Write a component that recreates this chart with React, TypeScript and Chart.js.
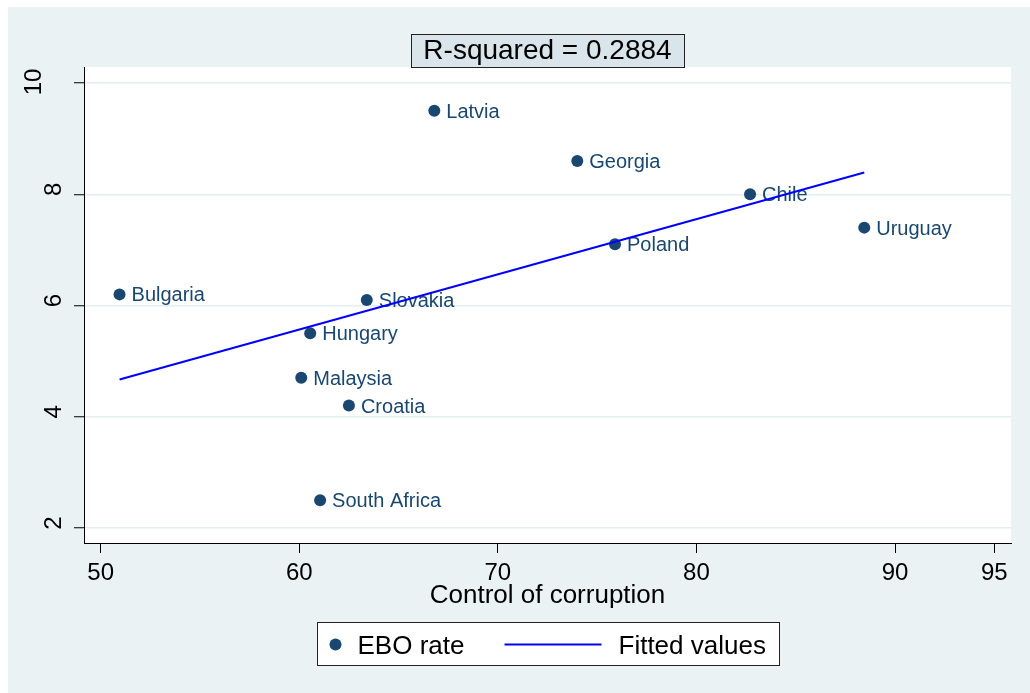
import React, { useEffect, useRef } from "react";
import { Chart, registerables } from "chart.js";

Chart.register(...registerables);

// Country observations: control of corruption vs. EBO rate
const countries = [
  "Latvia",
  "Georgia",
  "Chile",
  "Uruguay",
  "Poland",
  "Bulgaria",
  "Slovakia",
  "Hungary",
  "Malaysia",
  "Croatia",
  "South Africa",
];
const corruption = [66.8, 74.0, 82.7, 88.45, 75.9, 50.95, 63.4, 60.55, 60.1, 62.5, 61.05];
const eboRate = [9.5, 8.6, 8.0, 7.4, 7.1, 6.2, 6.1, 5.5, 4.7, 4.2, 2.5];

// Fitted regression line end points
const fitX = [50.95, 88.45];
const fitY = [4.67, 8.39];

// Axis ticks
const xTicks = [50, 60, 70, 80, 90, 95];
const yTicks = [2, 4, 6, 8, 10];

const titleText = "R-squared = 0.2884";
const xTitle = "Control of corruption";

const FONT = "Arial, 'Liberation Sans', Helvetica, sans-serif";
const NAVY = "#1a476f";
const BG = "#eaf2f3";

const decorations = {
  id: "decorations",
  beforeDraw(chart: any) {
    const { ctx, chartArea: a } = chart;
    ctx.save();
    ctx.fillStyle = BG;
    ctx.fillRect(0, 0, chart.width, chart.height);
    ctx.fillStyle = "#ffffff";
    ctx.fillRect(a.left, a.top, a.right - a.left, a.bottom - a.top);
    ctx.restore();
  },
  afterDatasetDraw(chart: any, args: any) {
    if (args.index !== 0) return;
    const { ctx } = chart;
    const meta = chart.getDatasetMeta(0);
    ctx.save();
    ctx.font = `20px ${FONT}`;
    ctx.fillStyle = NAVY;
    ctx.textAlign = "left";
    ctx.textBaseline = "alphabetic";
    meta.data.forEach((pt: any, i: number) => {
      ctx.fillText(countries[i], pt.x + 12, pt.y + 7);
    });
    ctx.restore();
  },
  afterDraw(chart: any) {
    const { ctx, chartArea: a, scales } = chart;
    const cx = (a.left + a.right) / 2;
    ctx.save();

    // y tick labels stood on end; wider labels sit further out from the axis
    ctx.font = `24px ${FONT}`;
    ctx.fillStyle = "#000";
    ctx.textAlign = "center";
    ctx.textBaseline = "middle";
    yTicks.forEach((v) => {
      const label = String(v);
      const w = ctx.measureText(label).width;
      const px = a.left - 11 - 1.5 * w;
      const py = scales.y.getPixelForValue(v) - 9 + 0.3 * w;
      ctx.save();
      ctx.translate(px + 1, py);
      ctx.rotate(-Math.PI / 2);
      ctx.fillText(label, 0, 0);
      ctx.restore();
    });

    // x axis title
    ctx.font = `26px ${FONT}`;
    ctx.textBaseline = "alphabetic";
    ctx.fillText(xTitle, cx, a.bottom + 60);

    // boxed title
    const tw = 273;
    const th = 33;
    const tx = Math.round(cx - tw / 2) + 0.5;
    const ty = Math.round(a.top - th) + 0.5;
    ctx.fillStyle = "#d9e5ea";
    ctx.fillRect(tx, ty, tw, th);
    ctx.strokeStyle = "#222";
    ctx.lineWidth = 1;
    ctx.strokeRect(tx, ty, tw, th);
    ctx.fillStyle = "#000";
    ctx.font = `28px ${FONT}`;
    ctx.fillText(titleText, cx, a.top - 8);

    // legend
    const ds = chart.data.datasets;
    const lw = 462;
    const lh = 43;
    const lx = Math.round(cx - lw / 2) + 0.5;
    const ly = Math.round(a.bottom + 79) + 0.5;
    const mid = ly + 22;
    ctx.fillStyle = "#ffffff";
    ctx.fillRect(lx, ly, lw, lh);
    ctx.strokeStyle = "#222";
    ctx.strokeRect(lx, ly, lw, lh);

    ctx.fillStyle = ds[0].backgroundColor;
    ctx.beginPath();
    ctx.arc(lx + 18, mid, 6, 0, Math.PI * 2);
    ctx.fill();

    ctx.strokeStyle = ds[1].borderColor;
    ctx.lineWidth = 2;
    ctx.beginPath();
    ctx.moveTo(lx + 187, mid);
    ctx.lineTo(lx + 284, mid);
    ctx.stroke();

    ctx.fillStyle = "#000";
    ctx.font = `26px ${FONT}`;
    ctx.textAlign = "left";
    ctx.fillText(ds[0].label, lx + 40, mid + 9.5);
    ctx.fillText(ds[1].label, lx + 301, mid + 9.5);

    ctx.restore();
  },
};

export default function App() {
  const canvasRef = useRef<HTMLCanvasElement | null>(null);

  useEffect(() => {
    if (!canvasRef.current) return;
    const chart = new Chart(canvasRef.current, {
      type: "scatter",
      data: {
        datasets: [
          {
            label: "EBO rate",
            data: corruption.map((x, i) => ({ x, y: eboRate[i] })),
            backgroundColor: NAVY,
            borderWidth: 0,
            pointRadius: 6,
            order: 1,
          },
          {
            type: "line",
            label: "Fitted values",
            data: fitX.map((x, i) => ({ x, y: fitY[i] })),
            borderColor: "#0000ff",
            backgroundColor: "#0000ff",
            borderWidth: 2,
            pointRadius: 0,
            showLine: true,
            fill: false,
            order: 0,
          } as any,
        ],
      },
      options: {
        animation: false,
        responsive: false,
        maintainAspectRatio: false,
        devicePixelRatio: 1,
        layout: { padding: { left: 0, right: 19, top: 60, bottom: 0 } },
        plugins: {
          legend: { display: false },
          tooltip: { enabled: false },
          title: { display: false },
        },
        scales: {
          x: {
            type: "linear",
            min: 49.16,
            max: 95.84,
            afterBuildTicks: (s: any) => {
              s.ticks = xTicks.map((value) => ({ value }));
            },
            afterFit: (s: any) => {
              s.height = 150;
            },
            ticks: {
              autoSkip: false,
              maxRotation: 0,
              minRotation: 0,
              padding: 6,
              color: "#000",
              font: { family: FONT, size: 24 },
            },
            grid: {
              drawOnChartArea: false,
              drawTicks: true,
              tickLength: 10,
              tickColor: "#000",
              tickWidth: 1,
            },
            border: { display: true, color: "#000", width: 1 },
          },
          y: {
            type: "linear",
            min: 1.73,
            max: 10.288,
            afterBuildTicks: (s: any) => {
              s.ticks = yTicks.map((value) => ({ value }));
            },
            afterFit: (s: any) => {
              s.width = 76;
            },
            ticks: { display: false },
            grid: {
              drawOnChartArea: true,
              color: "#e4eef2",
              lineWidth: 1.5,
              drawTicks: true,
              tickLength: 10,
              tickColor: "#000",
              tickWidth: 1,
            },
            border: { display: true, color: "#000", width: 1 },
          },
        },
      } as any,
      plugins: [decorations],
    });
    return () => chart.destroy();
  }, []);

  return (
    <div
      style={{
        position: "fixed",
        left: 0,
        top: 0,
        width: 1030,
        height: 693,
        background: "#ffffff",
        overflow: "hidden",
      }}
    >
      <canvas
        ref={canvasRef}
        width={1022}
        height={686}
        style={{ position: "absolute", left: 8, top: 7, width: 1022, height: 686 }}
      />
    </div>
  );
}
